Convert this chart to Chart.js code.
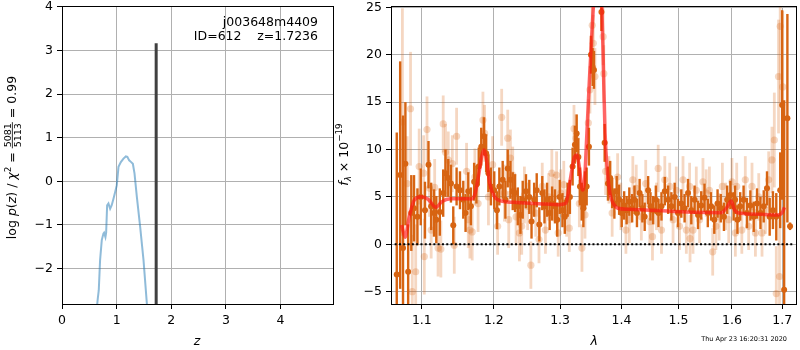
<!DOCTYPE html>
<html><head><meta charset="utf-8">
<script src="https://cdn.jsdelivr.net/npm/chart.js@4.4.0/dist/chart.umd.min.js"></script>
<style>
html,body{margin:0;padding:0;background:#fff;}
#wrap{position:relative;width:800px;height:350px;background:#fff;}
canvas{position:absolute;left:0;top:0;}
</style></head><body>
<div id="wrap"><canvas id="c1" width="800" height="350"></canvas><canvas id="c2" width="800" height="350"></canvas></div>
<script>
// ---------- Left panel: redshift PDF ----------
const zTicks = [0,1,2,3,4];
const pzTicks = [-2,-1,0,1,2,3,4];
const zGrid = [0.63,0.655,0.673,0.697,0.728,0.758,0.77,0.795,0.808,0.826,0.85,0.881,0.91,0.942,0.972,1.003,1.034,1.077,1.125,1.168,1.196,1.229,1.266,1.297,1.327,1.37,1.431,1.492,1.554,1.565];
const logPz = [-3.0,-2.69,-2.5,-1.81,-1.35,-1.2,-1.18,-1.28,-1.18,-0.55,-0.51,-0.63,-0.55,-0.40,-0.25,-0.09,0.33,0.44,0.52,0.57,0.56,0.48,0.44,0.40,0.18,-0.36,-1.05,-1.81,-2.82,-3.0];
const zBest = 1.7236;
const zBestTop = 3.17;
const objName = 'j003648m4409';
const objId = 'ID=612';
const objZ = 'z=1.7236';

// ---------- Right panel: spectrum ----------
const waveTicks = [1.1,1.2,1.3,1.4,1.5,1.6,1.7];
const fluxTicks = [-5,0,5,10,15,20,25];
const darkWave = [
1.0672,1.0716,1.0753,1.0784,1.0820,1.0861,1.0897,1.0942,1.0986,1.1042,
1.1089,1.1125,1.1163,1.1194,1.1242,1.1288,1.1319,1.1357,1.1394,1.1426,
1.1472,1.1519,1.1565,1.1597,1.1635,1.1672,1.1718,1.1750,1.1783,1.1819,
1.1857,1.1889,1.1922,1.1958,1.2006,1.2045,1.2080,1.2129,1.2169,1.2203,
1.2243,1.2277,1.2312,1.2352,1.2392,1.2426,1.2475,1.2525,1.2559,1.2599,
1.2638,1.2678,1.2723,1.2757,1.2797,1.2837,1.2875,1.2920,1.2955,1.2994,
1.3037,1.3074,1.3118,1.3155,1.3198,1.3235,1.3263,1.3290,1.3316,1.3344,
1.3371,1.3397,1.3424,1.3461,1.3494,1.3521,1.3543,1.3666,1.3719,1.3774,
1.3811,1.3844,1.3881,1.3920,1.3961,1.4005,1.4046,1.4088,1.4134,1.4182,
1.4223,1.4265,1.4311,1.4359,1.4399,1.4459,1.4500,1.4548,1.4594,1.4641,
1.4694,1.4753,1.4813,1.4871,1.4930,1.4990,1.5050,1.5110,1.5173,1.5233,
1.5294,1.5357,1.5417,1.5478,1.5540,1.5601,1.5662,1.5724,1.5785,1.5846,
1.5908,1.5969,1.6032,1.6060,1.6106,1.6160,1.6226,1.6292,1.6360,1.6426,
1.6492,1.6560,1.6626,1.6692,1.6746,1.6812,1.6880,1.6960,1.7000,1.7041,
1.7108,1.7163];
const darkFlux = [
-3.2,7.3,-0.4,8.5,-2.9,3.3,3.8,2.9,5.0,3.6,
8.4,4.0,3.3,2.6,3.4,5.4,7.5,7.0,6.4,2.0,
6.1,5.7,4.7,3.3,5.6,4.0,6.6,6.3,8.2,10.3,
11.4,9.6,7.5,6.1,5.7,3.6,6.1,6.8,4.7,8.0,
6.8,5.6,5.4,4.0,3.1,4.7,5.6,5.0,2.4,4.7,
5.7,2.1,5.4,4.0,4.7,3.3,4.3,4.0,2.6,5.0,
3.6,2.9,4.7,5.0,8.2,10.5,11.7,9.2,6.1,4.5,
3.8,5.7,6.1,10.3,20.0,18.7,18.4,24.5,10.7,6.4,
7.0,5.4,4.3,5.6,4.7,3.3,4.1,3.6,4.5,3.8,
4.7,3.3,5.4,3.8,2.9,5.7,4.0,3.6,4.7,3.3,
4.0,5.6,4.7,4.0,5.0,3.3,4.3,3.8,5.4,3.6,
4.7,3.1,4.1,4.9,3.3,4.0,2.6,4.3,3.8,2.9,
4.7,5.2,4.0,4.7,2.6,4.0,4.7,3.3,4.1,2.9,
4.3,3.3,4.0,5.9,2.9,3.6,2.9,5.7,14.7,-4.8,
13.3,1.9];
const darkErr = [
15,12,14,6.5,5,4,3.5,3,3,3,
2.5,2.5,2.5,2.5,2.5,2.5,2.5,2,2,2,
2,2,2,2,2,2,2,2,2,2,
2,2,2,2,2,2,2,2,2,2,
2,2,2,2,2,2,1.8,1.8,1.8,1.8,
1.8,1.8,1.8,1.8,1.8,1.8,1.8,1.8,1.8,1.8,
1.8,1.8,1.8,1.8,2,2,2,2,2,2,
2,2,2,2,2,2,2,2,2,1.8,
1.8,1.6,1.6,1.6,1.6,1.5,1.5,1.5,1.5,1.5,
1.5,1.5,1.5,1.5,1.5,1.5,1.5,1.5,1.5,1.5,
1.5,1.5,1.5,1.5,1.5,1.5,1.5,1.5,1.5,1.5,
1.5,1.5,1.5,1.5,1.5,1.5,1.5,1.5,1.5,1.5,
1.5,1.5,1.5,1.5,1.5,1.5,1.5,1.6,1.6,1.6,
1.6,1.7,1.7,1.8,2,2,2.5,4,10,20,
11,0.4];
const lightWave = [
1.0745,1.0807,1.0851,1.0874,1.0919,1.0965,1.1024,1.1033,1.1069,1.1103,
1.1125,1.1172,1.1218,1.1256,1.1288,1.1319,1.1357,1.1413,1.1440,1.1472,
1.1611,1.1635,1.1658,1.1690,1.1728,1.1774,1.1843,1.1867,1.1922,1.1982,
1.2055,1.2114,1.2154,1.2203,1.2218,1.2243,1.2277,1.2327,1.2377,1.2411,
1.2451,1.2500,1.2549,1.2623,1.2673,1.2723,1.2772,1.2822,1.2871,1.2905,
1.2945,1.2970,1.3010,1.3058,1.3102,1.3145,1.3220,1.3252,1.3306,1.3348,
1.3397,1.3451,1.3477,1.3515,1.3532,1.3559,1.3694,1.3705,1.3735,1.3790,
1.3844,1.3936,1.3989,1.4076,1.4134,1.4194,1.4253,1.4341,1.4417,1.4488,
1.4535,1.4606,1.4636,1.4694,1.4753,1.4841,1.4901,1.4959,1.5018,1.5081,
1.5142,1.5202,1.5210,1.5265,1.5325,1.5386,1.5449,1.5509,1.5570,1.5632,
1.5693,1.5754,1.5816,1.5877,1.5938,1.6000,1.6066,1.6092,1.6192,1.6260,
1.6326,1.6392,1.6460,1.6526,1.6592,1.6660,1.6726,1.6792,1.6840,1.6880,
1.6926,1.6946,1.6960,1.7012];
const lightFlux = [
12.9,6.4,14.3,-5.0,-2.9,8.2,7.5,-1.3,12.1,5.9,
1.5,6.0,-0.4,-0.5,12.7,9.7,8.9,8.5,-0.1,11.4,
7.7,2.6,1.5,1.3,7.1,4.3,13.1,11.7,5.0,8.4,
1.9,13.4,5.4,11.2,2.6,9.1,7.3,2.9,1.2,1.9,
5.2,4.0,-2.2,3.3,0.5,6.1,1.5,5.0,7.5,4.9,
7.3,1.2,5.4,6.3,3.3,1.7,12.2,11.2,4.3,-0.4,
3.1,12.8,16.3,23.1,21.2,17.7,21.9,18.0,7.7,6.8,
3.3,7.1,4.0,1.5,2.6,6.8,5.9,2.9,6.4,2.4,
0.8,4.0,8.0,1.5,6.8,6.1,2.6,5.7,1.9,6.8,
1.5,6.1,0.6,1.5,5.7,2.6,6.6,5.4,5.7,-0.8,
1.9,2.9,6.1,4.0,2.6,6.6,1.2,6.1,1.5,6.8,
1.9,6.1,1.2,5.0,1.2,3.6,6.8,8.9,11.0,-5.2,
17.7,-3.4,23.0,16.6];
const lightErr = [
12,5,6,6,5,4,4,4,3.5,3,
3,3,3,3,3,3,3,3,3,3,
3,3,3,3,3,3,3,3,3,3,
3,3,3,3,3,3,3,3,3,3,
3,2.5,2.5,2.5,2.5,2.5,2.5,2.5,2.5,2.5,
2.5,2.5,2.5,2.5,2.5,2.5,2.5,2.5,2.5,2.5,
2.5,2.5,2.5,3,3,3,3,3,2.5,2.5,
2.5,2.5,2.5,2.5,2.5,2.5,2.5,2.5,2.5,2.5,
2.5,2.5,2.5,2.5,2.5,2.5,2.5,2.5,2.5,2.5,
2.5,2.5,2.5,2.5,2.5,2.5,2.5,2.5,2.5,2.5,
2.5,2.5,2.5,2.5,2.5,2.5,2.5,2.5,2.5,2.5,
2.5,2.5,2.5,2.5,2.5,2.5,3,3.5,5,5,
6,6,8,8];
const modelWave = [1.0735,1.0780,1.0834,1.0901,1.0992,1.1083,1.1190,1.1270,1.1385,1.1570,1.1686,1.1732,1.1778,1.1825,1.1857,1.1894,1.1940,1.2010,1.2110,1.2283,1.2531,1.2778,1.2976,1.3090,1.3160,1.3229,1.3266,1.3305,1.3358,1.3390,1.3428,1.3466,1.3509,1.3537,1.3600,1.3671,1.3698,1.3726,1.3768,1.3806,1.3860,1.3940,1.4112,1.4702,1.5302,1.5791,1.5913,1.5985,1.6050,1.6170,1.6570,1.6900,1.7000,1.7047];
const modelFlux = [2.04,0.74,2.9,4.67,5.02,4.75,3.9,4.5,4.81,4.81,4.78,5.38,7.13,9.24,9.95,8.89,6.43,5.02,4.57,4.43,4.32,4.25,4.18,4.32,6.78,9.24,9.42,8.19,5.73,6.78,11.7,17.0,22.3,25.5,31,25.5,18.7,11.7,7.49,5.38,4.32,3.80,3.69,3.54,3.37,3.33,3.97,4.57,3.62,3.27,3.16,3.09,3.33,3.9];
const zeroWave = [1.0645,1.7210];
const timeStamp = 'Thu Apr 23 16:20:31 2020';

// ---------- helpers ----------
const FAM = '"DejaVu Sans"';
const FS = 12.5;
const fmtMinus = v => (v < 0 ? '\u2212' + Math.abs(v) : String(v));
function fixScale(w, h) {
  return s => {
    if (w != null) s.width = w;
    if (h != null) s.height = h;
    s.paddingTop = 0; s.paddingBottom = 0; s.paddingLeft = 0; s.paddingRight = 0;
  };
}
function setTicks(arr) { return s => { s.ticks = arr.map(v => ({ value: v })); }; }
const gridOpt = { color: '#b0b0b0', lineWidth: 1, tickColor: '#000', tickLength: 5, drawTicks: true };
const tickFont = { family: FAM, size: FS };

const framePlugin = {
  id: 'frame',
  afterDraw(chart) {
    const { ctx, chartArea: a } = chart;
    ctx.save();
    ctx.strokeStyle = '#000'; ctx.lineWidth = 1;
    ctx.strokeRect(Math.round(a.left) + 0.5, Math.round(a.top) + 0.5, Math.round(a.right - a.left), Math.round(a.bottom - a.top));
    ctx.restore();
  }
};
const errPlugin = {
  id: 'errbars',
  beforeDatasetDraw(chart, args) {
    const ds = chart.data.datasets[args.index];
    if (!ds.errs) return;
    const { ctx, chartArea: a, scales: { x, y } } = chart;
    ctx.save();
    ctx.beginPath(); ctx.rect(a.left, a.top, a.right - a.left, a.bottom - a.top); ctx.clip();
    ctx.strokeStyle = ds.errColor; ctx.lineWidth = ds.errWidth; ctx.lineCap = 'butt';
    ds.data.forEach((p, i) => {
      const px = x.getPixelForValue(p.x);
      ctx.beginPath();
      ctx.moveTo(px, y.getPixelForValue(p.y - ds.errs[i]));
      ctx.lineTo(px, y.getPixelForValue(p.y + ds.errs[i]));
      ctx.stroke();
    });
    ctx.restore();
  }
};
function drawRotRich(ctx, cx, cy, segs) {
  ctx.save(); ctx.translate(cx, cy); ctx.rotate(-Math.PI / 2);
  ctx.textBaseline = 'alphabetic'; ctx.fillStyle = '#000';
  let W = 0;
  segs.forEach(s => {
    ctx.font = s.font;
    s.w = s.frac ? Math.max(ctx.measureText(s.num).width, ctx.measureText(s.den).width) + 2 : ctx.measureText(s.t).width;
    W += s.w;
  });
  let u = -W / 2;
  segs.forEach(s => {
    ctx.font = s.font;
    if (s.frac) {
      ctx.textAlign = 'center';
      ctx.fillText(s.num, u + s.w / 2, s.nv);
      ctx.fillText(s.den, u + s.w / 2, s.dv);
      ctx.fillRect(u, s.bv, s.w, 0.8);
    } else {
      ctx.textAlign = 'left';
      ctx.fillText(s.t, u, s.v || 0);
    }
    u += s.w;
  });
  ctx.restore();
}
const N = FS + 'px ' + FAM, I = 'italic ' + FS + 'px ' + FAM;
const SN = '8.75px ' + FAM, SI = 'italic 8.75px ' + FAM, FR = '9.5px ' + FAM;

const leftText = {
  id: 'leftText',
  afterDraw(chart) {
    const ctx = chart.ctx;
    ctx.save(); ctx.fillStyle = '#000';
    ctx.font = N; ctx.textAlign = 'right'; ctx.textBaseline = 'middle';
    ctx.fillText(objName, 318, 23);
    ctx.fillText(objZ, 318, 37);
    ctx.fillText(objId, 241.5, 37);
    ctx.font = I; ctx.textAlign = 'center'; ctx.textBaseline = 'alphabetic';
    ctx.fillText('z', 197, 345);
    ctx.restore();
    drawRotRich(ctx, 16.3, 157.5, [
      { t: 'log ', font: N }, { t: 'p', font: I }, { t: '(', font: N }, { t: 'z', font: I },
      { t: ') / ', font: N }, { t: '\u03c7', font: I }, { t: '2', font: SN, v: -5 },
      { t: ' = ', font: N }, { frac: true, num: '5081', den: '5113', font: FR, nv: -5.5, dv: 4.5, bv: -4.4 },
      { t: ' = 0.99', font: N }
    ]);
  }
};
const rightText = {
  id: 'rightText',
  afterDraw(chart) {
    const ctx = chart.ctx;
    ctx.save(); ctx.fillStyle = '#000';
    ctx.font = I; ctx.textAlign = 'center'; ctx.textBaseline = 'alphabetic';
    ctx.fillText('\u03bb', 594.3, 345);
    ctx.font = '6.5px ' + FAM; ctx.textAlign = 'right'; ctx.textBaseline = 'middle';
    ctx.fillText(timeStamp, 787, 339.5);
    ctx.restore();
    drawRotRich(ctx, 348.3, 154.5, [
      { t: 'f', font: I }, { t: '\u03bb', font: SI, v: 2.5 }, { t: ' \u00d7 10', font: N },
      { t: '\u221219', font: SN, v: -6 }
    ]);
  }
};

// ---------- left chart ----------
new Chart(document.getElementById('c1'), {
  type: 'scatter',
  data: {
    datasets: [
      { data: [{ x: zBest, y: -3.2 }, { x: zBest, y: zBestTop }], showLine: true, borderColor: 'rgba(64,64,64,1)', borderWidth: 3, pointRadius: 0, clip: 0, order: 0 },
      { data: zGrid.map((z, i) => ({ x: z, y: logPz[i] })), showLine: true, borderColor: 'rgba(31,119,180,0.5)', borderWidth: 2, pointRadius: 0, clip: 0, order: 1 }
    ]
  },
  options: {
    responsive: false, animation: false, events: [],
    layout: { padding: { left: 0, top: 6, right: 467, bottom: 0 } },
    plugins: { legend: { display: false }, tooltip: { enabled: false } },
    scales: {
      x: { type: 'linear', min: 0, max: 4.96, afterBuildTicks: setTicks(zTicks), afterFit: fixScale(null, 46),
        grid: gridOpt, border: { display: false },
        ticks: { font: tickFont, color: '#000', padding: 4, maxRotation: 0, autoSkip: false, callback: v => fmtMinus(v) } },
      y: { type: 'linear', min: -2.816, max: 4.022, afterBuildTicks: setTicks(pzTicks), afterFit: fixScale(62, null),
        grid: gridOpt, border: { display: false },
        ticks: { font: tickFont, color: '#000', padding: 4, autoSkip: false, callback: v => fmtMinus(v) } }
    }
  },
  plugins: [framePlugin, leftText]
});

// ---------- right chart ----------
const darkCol = 'rgb(215,100,18)';
const lightCol = 'rgba(217,100,20,0.26)';
new Chart(document.getElementById('c2'), {
  type: 'scatter',
  data: {
    datasets: [
      { data: zeroWave.map(w => ({ x: w, y: 0 })), showLine: true, borderColor: '#000', borderWidth: 2, borderDash: [2, 2.3], pointRadius: 0, clip: 0, order: 0 },
      { data: modelWave.map((w, i) => ({ x: w, y: modelFlux[i] })), showLine: true, borderColor: 'rgba(255,20,20,0.65)', borderWidth: 3.5, pointRadius: 0, cubicInterpolationMode: 'monotone', clip: 0, order: 1 },
      { data: darkWave.map((w, i) => ({ x: w, y: darkFlux[i] })), errs: darkErr, errColor: darkCol, errWidth: 2.4, pointRadius: 3, pointBackgroundColor: darkCol, pointBorderWidth: 0, clip: 0, order: 2 },
      { data: lightWave.map((w, i) => ({ x: w, y: lightFlux[i] })), errs: lightErr, errColor: lightCol, errWidth: 2.8, pointRadius: 3.6, pointBackgroundColor: lightCol, pointBorderWidth: 0, clip: 0, order: 3 }
    ]
  },
  options: {
    responsive: false, animation: false, events: [],
    layout: { padding: { left: 340, top: 6, right: 1, bottom: 0 } },
    plugins: { legend: { display: false }, tooltip: { enabled: false } },
    scales: {
      x: { type: 'logarithmic', min: 1.0598, max: 1.7287, afterBuildTicks: setTicks(waveTicks), afterFit: fixScale(null, 46),
        grid: gridOpt, border: { display: false },
        ticks: { font: tickFont, color: '#000', padding: 4, maxRotation: 0, autoSkip: false, callback: v => Number(v).toFixed(1) } },
      y: { type: 'linear', min: -6.3, max: 25.14, afterBuildTicks: setTicks(fluxTicks), afterFit: fixScale(51, null),
        grid: gridOpt, border: { display: false },
        ticks: { font: tickFont, color: '#000', padding: 4, autoSkip: false, callback: v => fmtMinus(v) } }
    }
  },
  plugins: [errPlugin, framePlugin, rightText]
});
</script>
</body></html>
